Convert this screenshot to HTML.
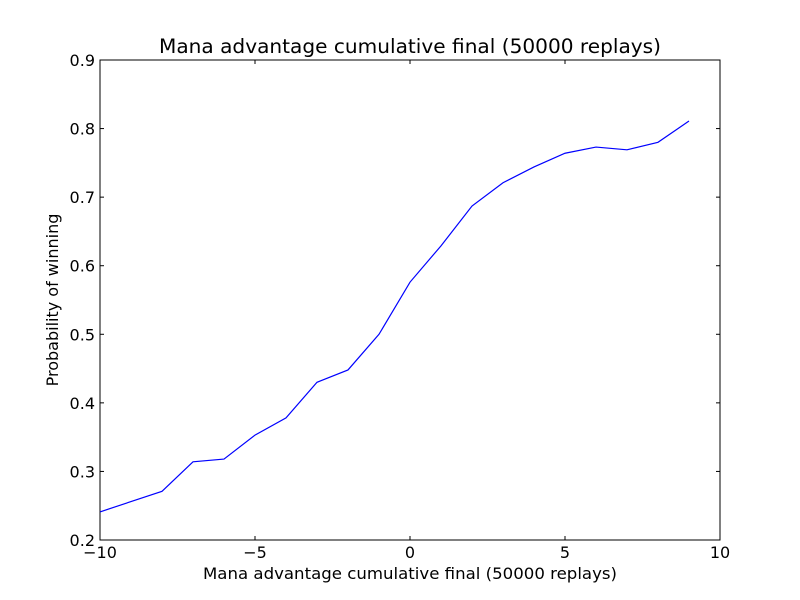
<!DOCTYPE html>
<html><head><meta charset="utf-8"><style>
body{margin:0;background:#fff;}
svg{display:block;font-family:"DejaVu Sans","Liberation Sans",sans-serif;}
</style></head><body>
<svg id="chart" width="800" height="600" viewBox="0 0 800 600"></svg>
<script>
const xValues=[-10,-9,-8,-7,-6,-5,-4,-3,-2,-1,0,1,2,3,4,5,6,7,8,9];
const winProb=[0.241,0.256,0.271,0.314,0.318,0.353,0.378,0.430,0.448,0.500,0.576,0.629,0.687,0.721,0.744,0.764,0.773,0.769,0.780,0.811];
const xTicks=[-10,-5,0,5,10];
const xTickLabels=["\u221210","\u22125","0","5","10"];
const yTicks=[0.2,0.3,0.4,0.5,0.6,0.7,0.8,0.9];
const yTickLabels=["0.2","0.3","0.4","0.5","0.6","0.7","0.8","0.9"];

const L=100,R=720,T=60,B=540;
const xs=v=>L+(v-(-10))/(20)*(R-L);
const ys=v=>B-(v-0.2)/(0.7)*(B-T);
const svg=document.getElementById('chart');
const NS='http://www.w3.org/2000/svg';
function mk(tag,attrs,parent){const e=document.createElementNS(NS,tag);for(const k in attrs)e.setAttribute(k,attrs[k]);(parent||svg).appendChild(e);return e;}

const frame=mk('rect',{x:L,y:T,width:R-L,height:B-T,fill:'#fff',stroke:'#000','stroke-width':1});



xTicks.forEach((t,i)=>{
  const x=xs(t);
  const a=mk('line',{x1:x,x2:x,y1:B,y2:B-4,stroke:'#000'});
  
  
  const b=mk('line',{x1:x,x2:x,y1:T,y2:T+4,stroke:'#000'});
  
  
  const tx=mk('text',{x:x,y:B+18,'text-anchor':'middle','font-size':16});
  tx.textContent=xTickLabels[i];
  
  
});
yTicks.forEach((t,i)=>{
  const y=ys(t);
  const a=mk('line',{x1:L,x2:L+4,y1:y,y2:y,stroke:'#000'});
  
  
  const b=mk('line',{x1:R,x2:R-4,y1:y,y2:y,stroke:'#000'});
  
  
  const tx=mk('text',{x:L-5,y:y+6,'text-anchor':'end','font-size':16});
  tx.textContent=yTickLabels[i];
  
  
});

const pts=xValues.map((v,i)=>xs(v)+','+ys(winProb[i])).join(' ');
const line=mk('polyline',{points:pts,fill:'none',stroke:'#0000ff','stroke-width':1.2});



const title=mk('text',{x:410,y:53,'text-anchor':'middle','font-size':19.5,textLength:502,lengthAdjust:'spacingAndGlyphs'});
title.textContent='Mana advantage cumulative final (50000 replays)';



const xl=mk('text',{x:410,y:579,'text-anchor':'middle','font-size':16,textLength:414,lengthAdjust:'spacingAndGlyphs'});
xl.textContent='Mana advantage cumulative final (50000 replays)';



const yl=mk('text',{x:0,y:0,'text-anchor':'middle','font-size':16,transform:'translate(58,300) rotate(-90)'});
yl.textContent='Probability of winning';


</script>
</body></html>
